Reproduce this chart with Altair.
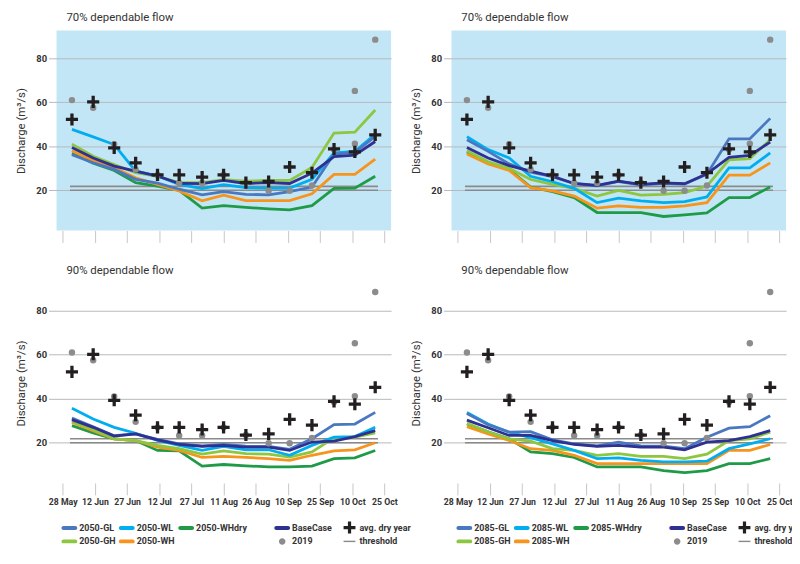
import json
import altair as alt
import pandas as pd

# ---------------- data ----------------
days = [4.3, 14.2, 24.0, 34.0, 44.2, 54.3, 65.0, 75.0, 85.4, 96.0, 105.8, 116.2, 126.5, 136.2, 145.7]
tick_days = [0, 15, 30, 45, 60, 75, 90, 105, 120, 135, 150]
tick_labels = ["28 May", "12 Jun", "27 Jun", "12 Jul", "27 Jul", "11 Aug",
               "26 Aug", "10 Sep", "25 Sep", "10 Oct", "25 Oct"]

avg_dry_year = [52.2, 60.2, 39.3, 32.5, 27.0, 27.0, 26.0, 27.0, 23.5, 24.0, 30.6, 28.0, 38.8, 37.5, 45.2]
days_2019 = [4.3, 14.2, 24.0, 34.0, 44.2, 54.3, 65.0, 75.0, 85.4, 96.0, 105.8, 116.2, 126.5, 136.2, 136.2, 145.7]
flow_2019 = [61.0, 57.5, 41.0, 29.5, 27.0, 23.3, 23.3, 27.0, 23.5, 19.8, 19.8, 22.2, 38.5, 41.2, 65.2, 88.5]

threshold_levels = [20.0, 21.8]
threshold_span = [3.4, 147.0]

# 70 % dependable flow, 2050
p70_2050 = {
    "GL":       [36.2, 32.5, 29.5, 25.0, 23.3, 20.5, 17.9, 19.4, 18.2, 17.9, 19.4, 21.5, 36.5, 37.2, 44.5],
    "WL":       [47.7, 44.3, 40.8, 28.7, 26.5, 22.7, 20.8, 22.6, 21.2, 21.0, 21.0, 25.0, 37.0, 37.7, 45.5],
    "WHdry":    [36.8, 32.3, 29.0, 23.5, 21.9, 20.0, 11.9, 13.0, 12.2, 11.6, 11.1, 13.0, 20.9, 21.0, 26.4],
    "BaseCase": [39.5, 34.7, 31.0, 28.7, 26.5, 23.1, 23.0, 24.5, 23.1, 23.5, 23.1, 27.8, 35.3, 36.0, 42.2],
    "GH":       [41.0, 35.5, 31.7, 28.0, 26.3, 23.5, 23.5, 24.8, 24.2, 24.5, 24.5, 30.4, 46.0, 46.4, 56.5],
    "WH":       [38.0, 33.5, 30.2, 25.7, 22.7, 19.7, 15.2, 17.8, 15.3, 15.3, 15.3, 18.4, 27.2, 27.2, 34.2],
}
# 70 % dependable flow, 2085
p70_2085 = {
    "GL":       [43.0, 37.7, 32.0, 28.3, 26.2, 23.0, 22.0, 24.0, 22.5, 23.2, 22.8, 27.3, 43.4, 43.4, 52.7],
    "WL":       [44.4, 38.5, 34.7, 26.4, 23.9, 20.9, 14.4, 16.4, 15.2, 14.4, 14.9, 17.0, 30.2, 30.2, 37.0],
    "WHdry":    [37.4, 32.5, 29.5, 21.5, 19.4, 16.7, 9.9, 9.9, 9.9, 8.1, 8.8, 9.7, 16.7, 16.7, 21.5],
    "BaseCase": [39.5, 34.7, 31.2, 28.7, 26.4, 23.1, 22.2, 24.2, 22.7, 23.4, 23.0, 27.5, 35.0, 35.9, 41.9],
    "GH":       [38.0, 33.0, 30.0, 24.9, 22.7, 20.9, 17.4, 20.0, 17.8, 18.2, 18.9, 21.9, 33.8, 34.4, 43.0],
    "WH":       [36.5, 32.0, 29.0, 21.2, 19.7, 17.4, 11.9, 12.9, 12.2, 12.2, 12.9, 14.4, 26.9, 26.9, 32.5],
}
# 90 % dependable flow, 2050
p90_2050 = {
    "GL":       [31.2, 27.2, 23.2, 24.0, 21.5, 19.5, 18.6, 19.2, 18.4, 18.3, 17.0, 21.8, 28.2, 28.5, 33.8],
    "WL":       [35.7, 30.8, 27.0, 24.3, 21.0, 18.8, 16.5, 18.3, 16.8, 16.8, 14.3, 18.8, 22.5, 22.8, 27.0],
    "WHdry":    [27.8, 24.5, 21.8, 21.0, 16.5, 16.3, 9.4, 10.1, 9.5, 9.0, 9.0, 9.4, 12.8, 13.1, 16.5],
    "BaseCase": [30.5, 27.0, 23.0, 24.0, 21.3, 19.2, 18.3, 18.8, 18.0, 18.0, 16.5, 20.3, 20.7, 22.8, 25.5],
    "GH":       [29.7, 26.0, 21.8, 21.0, 18.8, 17.3, 14.8, 16.3, 15.0, 14.8, 13.5, 15.8, 22.2, 22.5, 24.5],
    "WH":       [29.3, 25.5, 21.8, 21.0, 18.0, 16.5, 13.3, 13.8, 13.3, 12.8, 12.0, 14.3, 16.3, 16.8, 20.0],
}
# 90 % dependable flow, 2085
p90_2085 = {
    "GL":       [33.3, 28.2, 24.8, 25.0, 21.3, 19.5, 18.6, 20.3, 18.6, 18.4, 17.3, 22.5, 26.6, 27.3, 32.3],
    "WL":       [33.8, 28.5, 24.8, 22.3, 19.5, 16.5, 12.8, 13.1, 12.0, 11.3, 11.3, 11.6, 17.3, 19.5, 21.8],
    "WHdry":    [28.5, 25.0, 21.8, 15.8, 15.0, 13.3, 9.0, 9.0, 9.0, 7.3, 6.4, 7.3, 10.5, 10.5, 12.8],
    "BaseCase": [30.3, 26.8, 23.3, 23.3, 21.0, 19.2, 18.3, 18.8, 18.0, 18.0, 16.8, 20.3, 21.0, 22.8, 25.5],
    "GH":       [28.8, 25.0, 21.8, 20.7, 17.3, 16.5, 14.3, 15.0, 13.8, 13.8, 12.8, 14.8, 21.0, 21.8, 24.8],
    "WH":       [27.3, 24.0, 21.0, 17.3, 16.5, 14.3, 10.5, 10.5, 10.5, 10.5, 10.5, 10.5, 16.5, 16.5, 19.2],
}

# ---------------- styling ----------------
FONT = "Roboto"
TEXT = "#333333"
BLUE_BG = "#c3e6f6"
GRID = "#b4b9bd"
colors = {
    "GL": "#4a78c0", "WL": "#00aeef", "WHdry": "#1f9b48",
    "BaseCase": "#2e3192", "GH": "#8dc63f", "WH": "#f7941d",
}
draw_order = ["WHdry", "WH", "GH", "WL", "GL", "BaseCase"]
CROSS_COLOR = "#231f20"
DOT_COLOR = "#8c8c8c"
THR_COLOR = "#8a8a8a"

BAR = "M-1,-0.33H1A0.33,0.33 0 0 1 1,0.33H-1A0.33,0.33 0 0 1 -1,-0.33Z"
CROSS = "M-0.27,-1H0.27V-0.27H1V0.27H0.27V1H-0.27V0.27H-1V-0.27H-0.27Z"
DOT = "M0,-0.55A0.55,0.55 0 1 1 0,0.55A0.55,0.55 0 1 1 0,-0.55Z"
DOT_WIDE = DOT + "M0,0H9.7"            # zero-area tail only widens the legend column
THIN = "M-1,-0.12H1V0.12H-1Z"
WIDE_BLANK = "M0,-0.1H14.3V0.1H0Z"     # invisible, only widens the empty legend cell
SPACER = " "

label_expr = json.dumps(tick_labels) + "[round(datum.value / 15)]"

W, H = 338, 202
xscale = alt.Scale(domain=[-2.9, 153.1], nice=False, zero=False)
yscale = alt.Scale(domain=[1.7, 92.6], nice=False, zero=False)


def panel(year, vals, title, bottom):
    x_axis = alt.Axis(values=tick_days, labels=bottom, labelExpr=label_expr,
                      tickSize=12, tickColor="#c6c6c6", tickWidth=1, domain=False,
                      grid=False, title=None, labelFont=FONT, labelFontSize=8.8,
                      labelFontWeight="bold", labelColor=TEXT, labelPadding=3)
    y_axis = alt.Axis(values=[20, 40, 60, 80], grid=True, gridColor=GRID, gridWidth=1,
                      tickSize=8, tickColor=GRID, domain=False,
                      title="Discharge (m³/s)", titleFont=FONT, titleFontSize=11.5,
                      titleFontWeight="normal", titleColor=TEXT, titlePadding=9,
                      labelFont=FONT, labelFontSize=9.5, labelFontWeight="bold",
                      labelColor=TEXT, labelPadding=2)
    X = alt.X("day:Q", scale=xscale, axis=x_axis)
    Y = alt.Y("value:Q", scale=yscale, axis=y_axis)

    thr_df = pd.DataFrame([{"day": d, "value": lv, "level": i}
                           for i, lv in enumerate(threshold_levels) for d in threshold_span])
    layers = [alt.Chart(thr_df).mark_line(color=THR_COLOR, strokeWidth=1.6)
              .encode(X, Y, detail="level:N")]
    for key in draw_order:
        df = pd.DataFrame({"day": days, "value": vals[key]})
        layers.append(alt.Chart(df).mark_line(color=colors[key], strokeWidth=2.8).encode(X, Y))
    layers.append(alt.Chart(pd.DataFrame({"day": days_2019, "value": flow_2019}))
                  .mark_circle(size=42, color=DOT_COLOR, opacity=1).encode(X, Y))
    layers.append(alt.Chart(pd.DataFrame({"day": days, "value": avg_dry_year}))
                  .mark_point(shape=CROSS, filled=True, size=150, color=CROSS_COLOR, opacity=1)
                  .encode(X, Y))

    if bottom:
        field = f"item{year}"
        items = [f"{year}-GL", f"{year}-WL", f"{year}-WHdry", "BaseCase", "avg. dry year",
                 f"{year}-GH", f"{year}-WH", SPACER, "2019", "threshold"]
        item_colors = [colors["GL"], colors["WL"], colors["WHdry"], colors["BaseCase"], CROSS_COLOR,
                       colors["GH"], colors["WH"], "rgba(0,0,0,0)", DOT_COLOR, THR_COLOR]
        item_shapes = [BAR, BAR, BAR, BAR, CROSS, BAR, BAR, WIDE_BLANK, DOT_WIDE, THIN]
        leg = alt.Legend(title=None, orient="none", legendX=7, legendY=241,
                         direction="horizontal", columns=5, symbolSize=144,
                         labelFont=FONT, labelFontSize=9, labelFontWeight="bold",
                         labelColor=TEXT, columnPadding=3, rowPadding=2, padding=0,
                         labelOffset=4, symbolOpacity=1, symbolStrokeWidth=0)
        legend_layer = (alt.Chart(pd.DataFrame({field: items}))
                        .transform_filter("false")
                        .mark_point(filled=True, opacity=1)
                        .encode(color=alt.Color(f"{field}:N", scale=alt.Scale(domain=items, range=item_colors), legend=leg),
                                shape=alt.Shape(f"{field}:N", scale=alt.Scale(domain=items, range=item_shapes), legend=leg)))
        layers.append(legend_layer)

    return alt.layer(*layers).properties(
        width=W, height=H,
        title=alt.TitleParams(title, anchor="start", frame="group", dx=10, offset=7, font=FONT,
                              fontSize=11.5, fontWeight="normal", color=TEXT),
    )


chart = alt.concat(
    panel("2050", p70_2050, "70% dependable flow", False),
    panel("2085", p70_2085, "70% dependable flow", False),
    panel("2050", p90_2050, "90% dependable flow", True),
    panel("2085", p90_2085, "90% dependable flow", True),
    columns=2,
    spacing={"row": 53, "column": 61},
    bounds="flush",
).resolve_scale(
    color="independent", shape="independent"
).resolve_legend(
    color="independent", shape="independent"
).properties(
    autosize=alt.AutoSizeParams(type="none"),
    padding={"left": 49, "top": 20, "right": 743, "bottom": 536},
    background="white",
).configure_view(fill=BLUE_BG, stroke=None)

chart.save("out.html", embed_options={"renderer": "svg", "actions": False})
